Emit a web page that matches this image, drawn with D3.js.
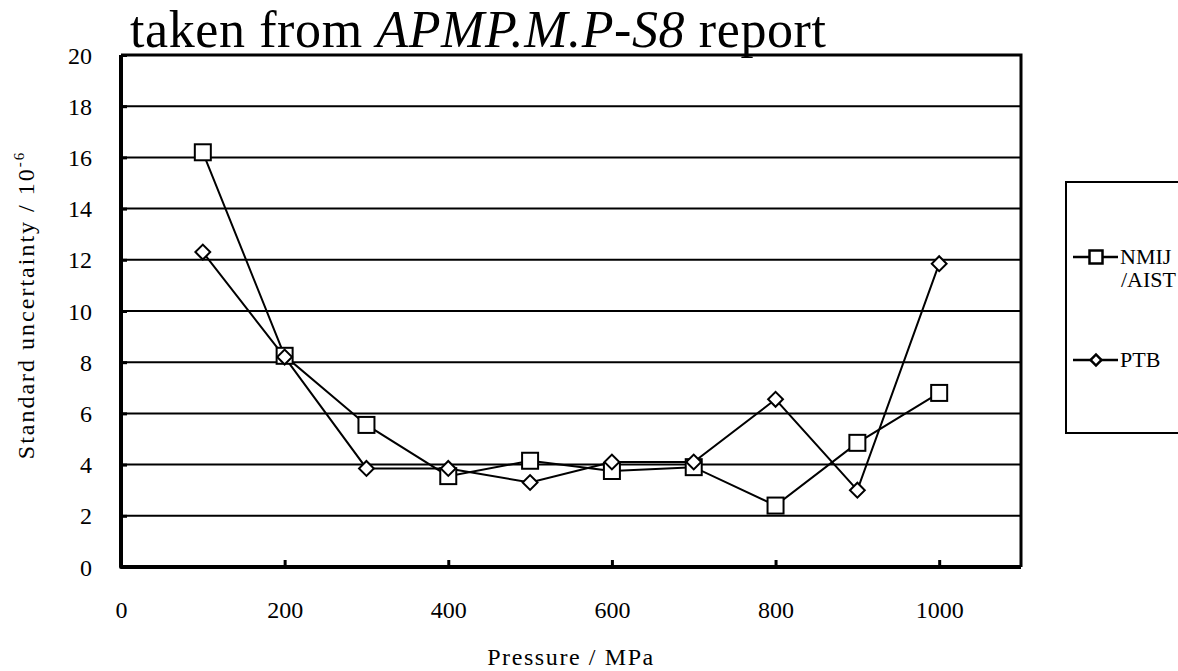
<!DOCTYPE html>
<html>
<head>
<meta charset="utf-8">
<script src="https://cdn.jsdelivr.net/npm/d3@7"></script>
<style>
  html, body { margin: 0; padding: 0; background: #fff; }
  svg text { font-family: "Liberation Serif", "Times New Roman", serif !important; fill: #000; }
</style>
</head>
<body>
<svg id="chart" width="1178" height="671"></svg>
<script>
// Pressure points (MPa)
const pressures = [100, 200, 300, 400, 500, 600, 700, 800, 900, 1000];
// Standard uncertainty / 10^-6
const nmijValues = [16.2, 8.25, 5.55, 3.55, 4.15, 3.75, 3.9, 2.4, 4.85, 6.8];
const ptbValues  = [12.3, 8.2, 3.85, 3.85, 3.3, 4.1, 4.1, 6.55, 3.0, 11.85];
const seriesNames = ["NMIJ\n/AIST", "PTB"];
const xTicks = [0, 200, 400, 600, 800, 1000];
const yTicks = [0, 2, 4, 6, 8, 10, 12, 14, 16, 18, 20];

const serif = '"Liberation Serif", "Times New Roman", serif';
const svg = d3.select("#chart");
const plot = { left: 121, right: 1021, top: 55, bottom: 567 };

const x = d3.scaleLinear().domain([0, 1100]).range([plot.left, plot.right]);
const y = d3.scaleLinear().domain([0, 20]).range([plot.bottom, plot.top]);

// Title
const title = svg.append("text").attr("x", 130).attr("y", 47)
  .style("font-size", "52px").style("font-family", serif)
  .style("letter-spacing", "0.6px");
title.append("tspan").text("taken from ");
title.append("tspan").style("font-style", "italic").text("APMP.M.P-S8");
title.append("tspan").text(" report");

// Horizontal grid lines
svg.append("g")
  .selectAll("line")
  .data(yTicks.filter(d => d > 0 && d < 20))
  .join("line")
  .attr("x1", plot.left).attr("x2", plot.right)
  .attr("y1", d => y(d)).attr("y2", d => y(d))
  .attr("stroke", "#000").attr("stroke-width", 2);

// Y axis with inward ticks
const yAxis = svg.append("g")
  .attr("transform", `translate(${plot.left},0)`)
  .call(d3.axisLeft(y).tickValues(yTicks).tickSize(-6).tickPadding(29).tickFormat(d3.format("d")))
  .attr("font-family", serif).attr("font-size", 24);
yAxis.select(".domain").remove();
yAxis.selectAll(".tick line").attr("stroke", "#000").attr("stroke-width", 3);
yAxis.selectAll(".tick text").attr("dy", "0.34em");

// X axis with inward ticks
const xAxis = svg.append("g")
  .attr("transform", `translate(0,${plot.bottom})`)
  .call(d3.axisBottom(x).tickValues(xTicks).tickSize(-7).tickPadding(34).tickFormat(d3.format("d")))
  .attr("font-family", serif).attr("font-size", 24);
xAxis.select(".domain").remove();
xAxis.selectAll(".tick line").attr("stroke", "#000").attr("stroke-width", 3);

// Plot frame: heavier left/bottom axis lines
svg.append("path")
  .attr("d", `M${plot.left},${plot.top}H${plot.right}V${plot.bottom}`)
  .attr("fill", "none").attr("stroke", "#000").attr("stroke-width", 3);
svg.append("path")
  .attr("d", `M${plot.left},${plot.top}V${plot.bottom}H${plot.right}`)
  .attr("fill", "none").attr("stroke", "#000").attr("stroke-width", 4)
  .attr("stroke-linejoin", "round");

// Axis titles, centred on the plot area
svg.append("text")
  .attr("x", (plot.left + plot.right) / 2).attr("y", 665)
  .attr("text-anchor", "middle")
  .style("font-size", "24px").style("font-family", serif)
  .style("letter-spacing", "1.6px")
  .text("Pressure / MPa");

const yl = svg.append("text")
  .attr("transform", "translate(34,305) rotate(-90)")
  .attr("text-anchor", "middle")
  .style("font-size", "24px").style("font-family", serif)
  .style("letter-spacing", "2px");
yl.append("tspan").text("Standard uncertainty / 10");
yl.append("tspan").attr("dy", -10).style("font-size", "15px").text("-6");

// Series lines and markers
const line = d3.line().x(d => x(d[0])).y(d => y(d[1]));
const nmijData = pressures.map((p, i) => [p, nmijValues[i]]);
const ptbData = pressures.map((p, i) => [p, ptbValues[i]]);

svg.append("path").datum(nmijData).attr("d", line)
  .attr("fill", "none").attr("stroke", "#000").attr("stroke-width", 2);
svg.append("path").datum(ptbData).attr("d", line)
  .attr("fill", "none").attr("stroke", "#000").attr("stroke-width", 2);

const sq = 16;
svg.append("g").selectAll("rect").data(nmijData).join("rect")
  .attr("x", d => x(d[0]) - sq / 2).attr("y", d => y(d[1]) - sq / 2)
  .attr("width", sq).attr("height", sq)
  .attr("fill", "#fff").attr("stroke", "#000").attr("stroke-width", 2);

const diamond = d3.symbol().type(d3.symbolSquare).size(110);
svg.append("g").selectAll("path").data(ptbData).join("path")
  .attr("d", diamond)
  .attr("transform", d => `translate(${x(d[0])},${y(d[1])}) rotate(45)`)
  .attr("fill", "#fff").attr("stroke", "#000").attr("stroke-width", 2);

// Legend
const lg = svg.append("g");
lg.append("rect").attr("x", 1066).attr("y", 182).attr("width", 130).attr("height", 251)
  .attr("fill", "#fff").attr("stroke", "#000").attr("stroke-width", 2);

const legendRows = [
  { name: seriesNames[0], y: 257, kind: "square" },
  { name: seriesNames[1], y: 360, kind: "diamond" }
];
legendRows.forEach(r => {
  lg.append("line").attr("x1", 1073).attr("x2", 1118).attr("y1", r.y).attr("y2", r.y)
    .attr("stroke", "#000").attr("stroke-width", 2.5);
  if (r.kind === "square") {
    lg.append("rect").attr("x", 1096 - 6.5).attr("y", r.y - 6.5).attr("width", 13).attr("height", 13)
      .attr("fill", "#fff").attr("stroke", "#000").attr("stroke-width", 2.5);
  } else {
    lg.append("path").attr("d", d3.symbol().type(d3.symbolSquare).size(60))
      .attr("transform", `translate(1096,${r.y}) rotate(45)`)
      .attr("fill", "#fff").attr("stroke", "#000").attr("stroke-width", 2.5);
  }
  const t = lg.append("text").attr("x", 1120).attr("y", r.y + 7)
    .style("font-size", "22px").style("font-family", serif);
  r.name.split("\n").forEach((s, i) => {
    t.append("tspan").attr("x", i === 0 ? 1120 : 1121).attr("dy", i === 0 ? 0 : 23).text(s);
  });
});
</script>
</body>
</html>
